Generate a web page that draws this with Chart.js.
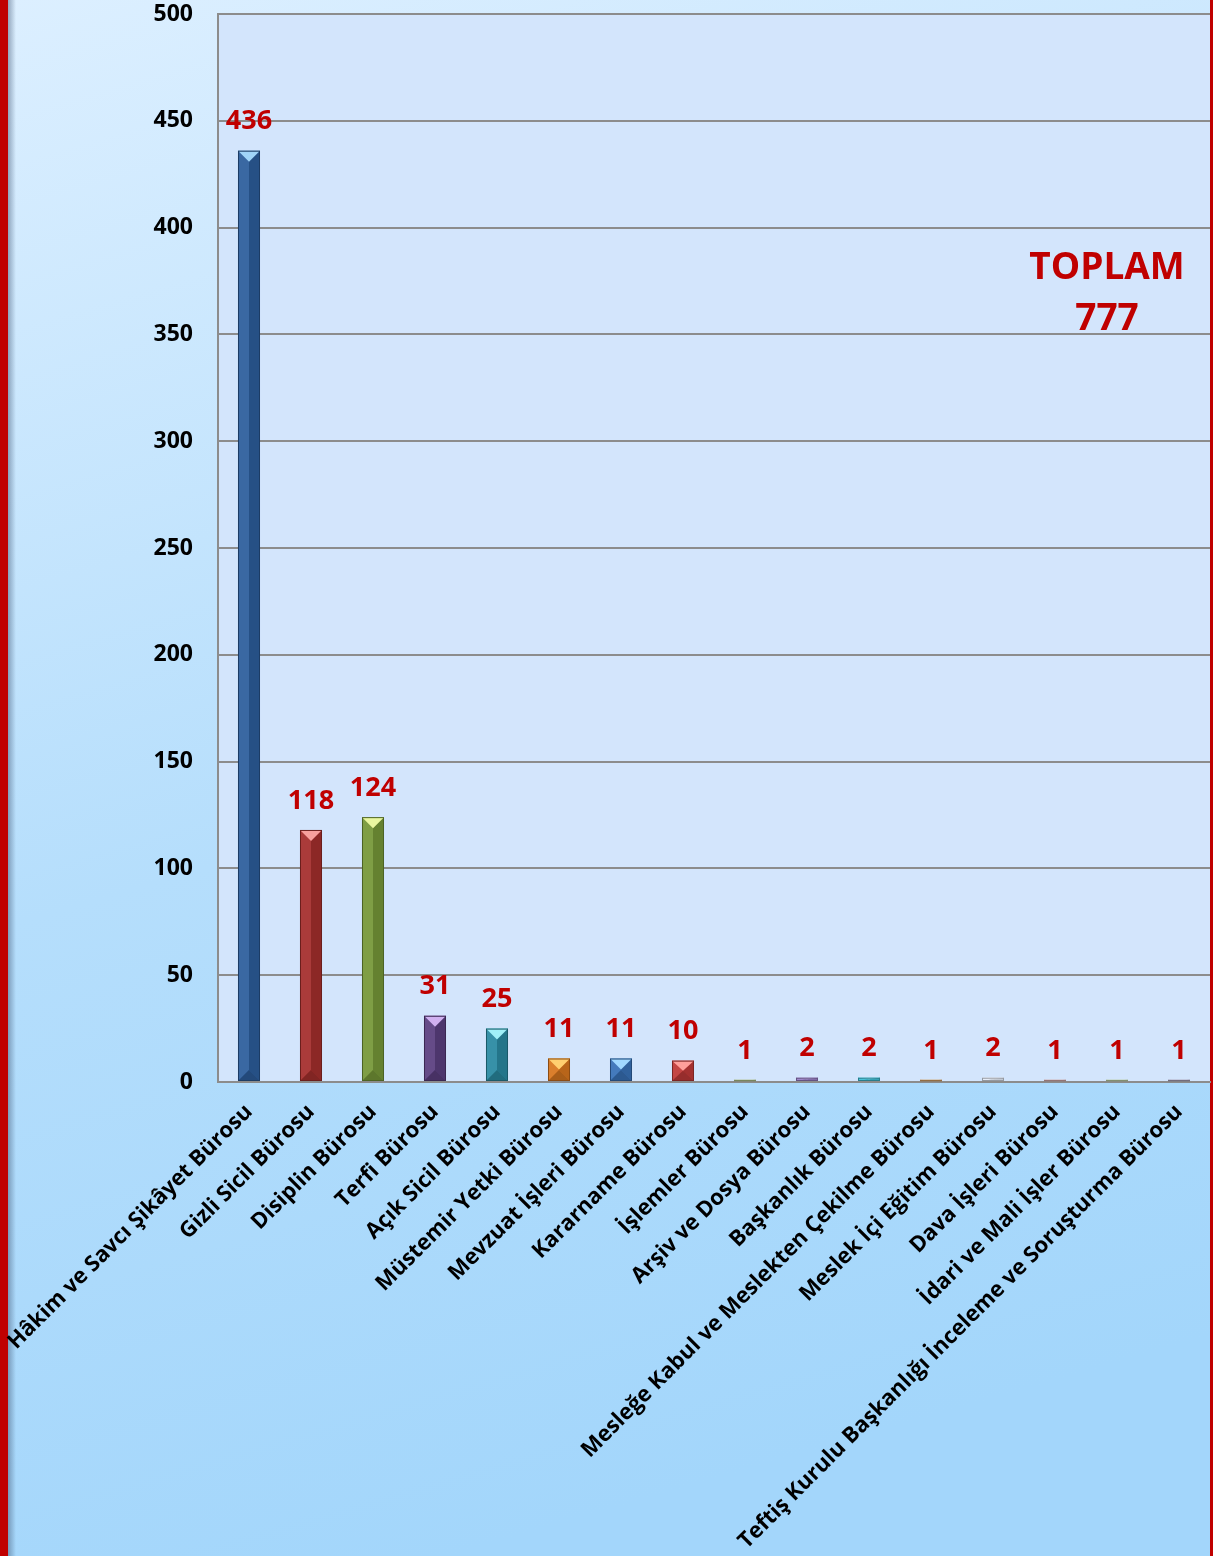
<!DOCTYPE html>
<html><head><meta charset="utf-8">
<script src="https://cdn.jsdelivr.net/npm/chart.js@4.4.0/dist/chart.umd.min.js"></script>
<style>html,body{margin:0;padding:0;overflow:hidden;background:#c6e5fd}
#wrap{width:1213px;height:1556px;position:relative}
canvas{display:block}
</style></head><body><div id="wrap"><canvas id="c" width="1213" height="1556"></canvas></div>
<script>
const categories = [
  "Hâkim ve Savcı Şikâyet Bürosu","Gizli Sicil Bürosu","Disiplin Bürosu","Terfi Bürosu",
  "Açık Sicil Bürosu","Müstemir Yetki Bürosu","Mevzuat İşleri Bürosu","Kararname Bürosu",
  "İşlemler Bürosu","Arşiv ve Dosya Bürosu","Başkanlık Bürosu","Mesleğe Kabul ve Meslekten Çekilme Bürosu",
  "Meslek İçi Eğitim Bürosu","Dava İşleri Bürosu","İdari ve Mali İşler Bürosu",
  "Teftiş Kurulu Başkanlığı İnceleme ve Soruşturma Bürosu"
];
const values = [436,118,124,31,25,11,11,10,1,2,2,1,2,1,1,1];
const yMin = 0, yMax = 500, yStep = 50;
const totalTitle = "TOPLAM";
const totalValue = "777";
const barColors = ["#2d5e9c","#a52f2d","#779839","#5b3f80","#2a8aa2","#d8771f","#3872b8","#c03a38",
  "#b8cc90","#9a80c8","#40c0d8","#e0a868","#e4ecf8","#e0b4b4","#c8dcb0","#b0a8c0"];
const topColors = ["#a0d4f8","#f7a09d","#eaf7a0","#d0b0f0","#a0f0f8","#ffd070","#a0d8ff","#ff9f9a",
  "#e0f0c0","#d0c0f0","#a0f0ff","#f8d8a8","#ffffff","#f8dcdc","#e8f4d8","#d8d0e4"];

function shade(hex, f){
  const n=parseInt(hex.slice(1),16);let r=n>>16,g=(n>>8)&255,b=n&255;
  if(f<0){r=Math.round(r*(1+f));g=Math.round(g*(1+f));b=Math.round(b*(1+f));}
  else{r=Math.round(r+(255-r)*f);g=Math.round(g+(255-g)*f);b=Math.round(b+(255-b)*f);}
  return `rgb(${r},${g},${b})`;
}

const bgPlugin = {
  id:'bg',
  beforeDraw(chart){
    const {ctx, width, height, chartArea:a} = chart;
    ctx.save();
    const g = ctx.createLinearGradient(0,0,450,height);
    g.addColorStop(0,'#dcefff'); g.addColorStop(0.55,'#b5defc'); g.addColorStop(1,'#a3d6fb');
    ctx.fillStyle=g; ctx.fillRect(0,0,width,height);
    ctx.fillStyle='#d3e5fc';
    ctx.fillRect(a.left,a.top,a.right-a.left,a.bottom-a.top);
    const s = ctx.createLinearGradient(8,0,16,0);
    s.addColorStop(0,'rgba(60,80,110,0.45)'); s.addColorStop(1,'rgba(60,80,110,0)');
    ctx.fillStyle=s; ctx.fillRect(8,0,8,height);
    ctx.fillStyle='#c00000';
    ctx.fillRect(0,0,8,height);
    ctx.fillRect(width-3,0,3,height);
    ctx.restore();
  }
};

const bevelPlugin = {
  id:'bevel',
  afterDatasetsDraw(chart){
    const ctx = chart.ctx;
    const meta = chart.getDatasetMeta(0);
    ctx.save();
    meta.data.forEach((bar,i)=>{
      const w = bar.width, L = bar.x - w/2, R = bar.x + w/2, T = bar.y, B = bar.base;
      const h = B - T; if(h <= 0) return;
      const d = Math.min(w/2, h/2);
      const base = barColors[i];
      ctx.fillStyle = shade(base, 0.06);
      ctx.beginPath(); ctx.moveTo(L,T); ctx.lineTo(bar.x,T+d); ctx.lineTo(bar.x,B-d); ctx.lineTo(L,B); ctx.closePath(); ctx.fill();
      ctx.fillStyle = shade(base, -0.15);
      ctx.beginPath(); ctx.moveTo(R,T); ctx.lineTo(bar.x,T+d); ctx.lineTo(bar.x,B-d); ctx.lineTo(R,B); ctx.closePath(); ctx.fill();
      ctx.fillStyle = shade(base, -0.22);
      ctx.beginPath(); ctx.moveTo(L,B); ctx.lineTo(R,B); ctx.lineTo(bar.x,B-d); ctx.closePath(); ctx.fill();
      ctx.fillStyle = topColors[i];
      ctx.beginPath(); ctx.moveTo(L,T); ctx.lineTo(R,T); ctx.lineTo(bar.x,T+d); ctx.closePath(); ctx.fill();
      ctx.strokeStyle = shade(base,-0.35); ctx.lineWidth = 1;
      ctx.strokeRect(L+0.5,T+0.5,w-1,Math.max(h-1,0.5));
    });
    ctx.fillStyle = '#c00000';
    ctx.font = 'bold 27px "Open Sans"';
    ctx.textAlign = 'center'; ctx.textBaseline = 'middle';
    meta.data.forEach((bar,i)=>{
      ctx.fillText(String(values[i]), bar.x, bar.y - 29);
    });
    const a = chart.chartArea;
    ctx.font = 'bold 37px "Open Sans"';
    ctx.fillText(totalTitle, a.right - 103, chart.scales.y.getPixelForValue(totalY1));
    ctx.fillText(totalValue, a.right - 103, chart.scales.y.getPixelForValue(totalY2));
    ctx.restore();
  }
};
const totalY1 = 381, totalY2 = 357;

new Chart(document.getElementById('c'), {
  type:'bar',
  data:{ labels: categories, datasets:[{ data: values, backgroundColor: barColors, borderWidth:0,
    barPercentage:0.355, categoryPercentage:1 }]},
  options:{
    responsive:false, animation:false, devicePixelRatio:1,
    layout:{ padding:{ left:8, top:14, right:3, bottom:0 } },
    plugins:{ legend:{display:false}, tooltip:{enabled:false} },
    scales:{
      x:{
        grid:{ display:false, drawTicks:false },
        border:{ display:true, color:'#8c8c8c', width:2 },
        ticks:{ color:'#000', font:{ family:'"Open Sans"', weight:'bold', size:22 },
          minRotation:45, maxRotation:45, autoSkip:false, padding:17 },
        afterFit(s){ s.height = 474; s.paddingLeft = 0; s.paddingRight = 0; }
      },
      y:{
        min:yMin, max:yMax,
        grid:{ color:'#8c8c8c', lineWidth:2, drawTicks:false },
        border:{ display:true, color:'#8c8c8c', width:2 },
        ticks:{ stepSize:yStep, color:'#000', padding:25, font:{ family:'"Open Sans"', weight:'bold', size:23 } },
        afterFit(s){ s.width = 210; s.paddingTop = 0; s.paddingBottom = 0; }
      }
    }
  },
  plugins:[bgPlugin, bevelPlugin]
});
</script></body></html>
